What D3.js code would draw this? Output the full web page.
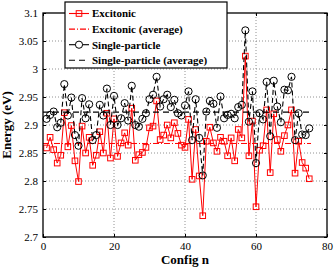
<!DOCTYPE html>
<html>
<head>
<meta charset="utf-8">
<script src="https://cdn.jsdelivr.net/npm/d3@7"></script>
<style>
  body { margin: 0; background: #fff; }
  svg { display: block; }
  .tick text { font-family: "Liberation Serif", serif; font-size: 11px; }
</style>
</head>
<body>
<script>
// data
var excitonic = [2.859, 2.878, 2.856, 2.832, 2.846, 2.922, 2.861, 2.899, 2.836, 2.799,
  2.898, 2.850, 2.878, 2.828, 2.846, 2.888, 2.850, 2.921, 2.841, 2.911,
  2.844, 2.868, 2.886, 2.864, 2.930, 2.837, 2.847, 2.851, 2.860, 2.895,
  2.898, 2.943, 2.874, 2.882, 2.900, 2.877, 2.904, 2.885, 2.864, 2.860,
  2.910, 2.803, 2.892, 2.809, 2.738, 2.871, 2.896, 2.868, 2.853, 2.878,
  2.871, 2.845, 2.877, 2.836, 2.892, 2.877, 3.023, 2.845, 2.907, 2.754,
  2.855, 2.863, 2.927, 2.815, 2.920, 2.874, 2.853, 2.881, 2.900, 2.927,
  2.814, 2.871, 2.833, 2.823, 2.804];
var single = [2.911, 2.918, 2.924, 2.896, 2.904, 2.973, 2.917, 2.949, 2.882, 2.863,
  2.948, 2.912, 2.937, 2.873, 2.882, 2.936, 2.917, 2.965, 2.900, 2.952,
  2.900, 2.912, 2.939, 2.908, 2.970, 2.900, 2.897, 2.911, 2.921, 2.946,
  2.954, 2.986, 2.933, 2.946, 2.954, 2.932, 2.945, 2.921, 2.917, 2.935,
  2.960, 2.873, 2.946, 2.877, 2.810, 2.924, 2.943, 2.938, 2.895, 2.951,
  2.912, 2.918, 2.920, 2.912, 2.932, 2.936, 3.069, 2.906, 2.960, 2.832,
  2.921, 2.910, 2.977, 2.880, 2.979, 2.933, 2.905, 2.963, 2.962, 2.986,
  2.873, 2.921, 2.883, 2.882, 2.894];
var excitonicAvg = 2.867;
var singleAvg = 2.923;
var avgRange = [0, 75.5];
var xTicks = [0, 20, 40, 60, 80];
var yTicks = [2.7, 2.75, 2.8, 2.85, 2.9, 2.95, 3, 3.05, 3.1];
var legendLabels = ["Excitonic", "Excitonic (average)", "Single-particle", "Single-particle (average)"];

var width = 335, height = 268;
var margin = {top: 13, right: 8, bottom: 31, left: 43};

var svg = d3.select("body").append("svg")
  .attr("width", width)
  .attr("height", height);

var x = d3.scaleLinear().domain([0, 80]).range([margin.left, width - margin.right]);
var y = d3.scaleLinear().domain([2.7, 3.1]).range([height - margin.bottom, margin.top]);

// grid
svg.append("g")
  .selectAll("line.gx")
  .data(xTicks.slice(1, -1))
  .join("line")
    .attr("x1", d => x(d)).attr("x2", d => x(d))
    .attr("y1", y(2.7)).attr("y2", y(3.1))
    .attr("stroke", "#777").attr("stroke-width", 0.8)
    .attr("stroke-dasharray", "1,2");
svg.append("g")
  .selectAll("line.gy")
  .data(yTicks.slice(1, -1))
  .join("line")
    .attr("x1", x(0)).attr("x2", x(80))
    .attr("y1", d => y(d)).attr("y2", d => y(d))
    .attr("stroke", "#777").attr("stroke-width", 0.8)
    .attr("stroke-dasharray", "1,2");

// axes
var fmt = d => d3.format("")(+d.toFixed(2));
svg.append("g")
  .attr("transform", "translate(0," + (height - margin.bottom) + ")")
  .call(d3.axisBottom(x).tickValues(xTicks).tickSizeInner(-3).tickSizeOuter(0).tickPadding(5))
  .call(g => g.select(".domain").remove());
svg.append("g")
  .attr("transform", "translate(" + margin.left + ",0)")
  .call(d3.axisLeft(y).tickValues(yTicks).tickFormat(fmt).tickSizeInner(-3).tickSizeOuter(0).tickPadding(5))
  .call(g => g.select(".domain").remove());
svg.append("g")
  .attr("transform", "translate(" + x(80) + ",0)")
  .call(d3.axisRight(y).tickValues(yTicks).tickFormat("").tickSizeInner(-3).tickSizeOuter(0))
  .call(g => g.select(".domain").remove());
svg.append("g")
  .attr("transform", "translate(0," + margin.top + ")")
  .call(d3.axisTop(x).tickValues(xTicks).tickFormat("").tickSizeInner(-3).tickSizeOuter(0))
  .call(g => g.select(".domain").remove());

// series
var line = d3.line().x((d, i) => x(i + 1)).y(d => y(d));

svg.append("path").datum(excitonic)
  .attr("d", line).attr("fill", "none")
  .attr("stroke", "#ff0000").attr("stroke-width", 1);
svg.append("g").selectAll("rect")
  .data(excitonic)
  .join("rect")
    .attr("x", (d, i) => x(i + 1) - 2.8).attr("y", d => y(d) - 2.8)
    .attr("width", 5.6).attr("height", 5.6)
    .attr("fill", "none").attr("stroke", "#ff0000").attr("stroke-width", 1);
svg.append("line")
  .attr("x1", x(avgRange[0])).attr("x2", x(avgRange[1]))
  .attr("y1", y(excitonicAvg)).attr("y2", y(excitonicAvg))
  .attr("stroke", "#ff0000").attr("stroke-width", 1)
  .attr("stroke-dasharray", "6,2,1,2");

svg.append("path").datum(single)
  .attr("d", line).attr("fill", "none")
  .attr("stroke", "#000").attr("stroke-width", 1.1)
  .attr("stroke-dasharray", "5,3");
svg.append("g").selectAll("circle")
  .data(single)
  .join("circle")
    .attr("cx", (d, i) => x(i + 1)).attr("cy", d => y(d))
    .attr("r", 3.6)
    .attr("fill", "none").attr("stroke", "#000").attr("stroke-width", 1);
svg.append("line")
  .attr("x1", x(avgRange[0])).attr("x2", x(avgRange[1]))
  .attr("y1", y(singleAvg)).attr("y2", y(singleAvg))
  .attr("stroke", "#000").attr("stroke-width", 1.1)
  .attr("stroke-dasharray", "6,4");

// frame
svg.append("rect")
  .attr("x", x(0)).attr("y", y(3.1))
  .attr("width", x(80) - x(0)).attr("height", y(2.7) - y(3.1))
  .attr("fill", "none").attr("stroke", "#000").attr("stroke-width", 1.3);

// axis labels
svg.append("text")
  .attr("x", (x(0) + x(80)) / 2).attr("y", 264)
  .attr("text-anchor", "middle")
  .style("font-family", "Liberation Serif, serif").style("font-weight", "bold").style("font-size", "13px")
  .text("Config n");
svg.append("text")
  .attr("transform", "translate(11," + ((y(2.7) + y(3.1)) / 2) + ") rotate(-90)")
  .attr("text-anchor", "middle")
  .style("font-family", "Liberation Serif, serif").style("font-weight", "bold").style("font-size", "13px")
  .text("Energy (eV)");

// legend
var lg = svg.append("g").attr("transform", "translate(65,2)");
lg.append("rect").attr("width", 162).attr("height", 66)
  .attr("fill", "#fff").attr("stroke", "#000").attr("stroke-width", 1.2);
var rows = lg.selectAll("g.row").data(legendLabels).join("g")
  .attr("transform", (d, i) => "translate(0," + (11.5 + i * 15.6) + ")");
rows.append("text")
  .attr("x", 27).attr("dy", "0.35em")
  .style("font-family", "Liberation Serif, serif").style("font-weight", "bold").style("font-size", "11px")
  .text(d => d);
rows.each(function(d, i) {
  var r = d3.select(this);
  var col = i < 2 ? "#ff0000" : "#000";
  var dash = [null, "6,2,1,2", null, "6,4"][i];
  r.append("line").attr("x1", 4).attr("x2", 24)
    .attr("stroke", col).attr("stroke-width", 1.1)
    .attr("stroke-dasharray", dash);
  if (i === 0) r.append("rect").attr("x", 11.2).attr("y", -2.8).attr("width", 5.6).attr("height", 5.6)
    .attr("fill", "none").attr("stroke", col);
  if (i === 2) r.append("circle").attr("cx", 14).attr("r", 3.6)
    .attr("fill", "#fff").attr("stroke", col);
});
</script>
</body>
</html>
